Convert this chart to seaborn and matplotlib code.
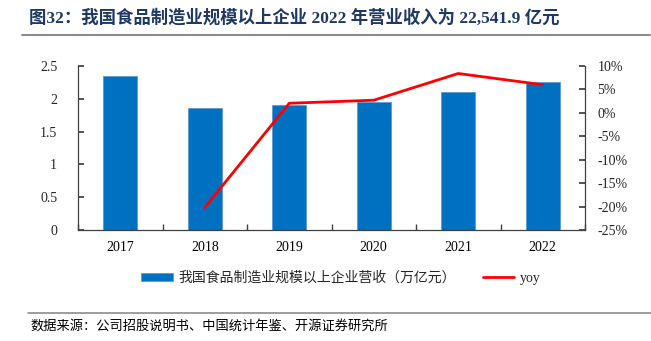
import numpy as np
import pandas as pd
import matplotlib
matplotlib.use("Agg")
import matplotlib.pyplot as plt
import seaborn as sns
from matplotlib.ticker import FuncFormatter

years = ["2017", "2018", "2019", "2020", "2021", "2022"]
revenue = [2.34, 1.86, 1.90, 1.95, 2.11, 2.25]
yoy_years = ["2018", "2019", "2020", "2021", "2022"]
yoy = [-20.2, 2.05, 2.7, 8.4, 6.0]

title = "图32：我国食品制造业规模以上企业 2022 年营业收入为 22,541.9 亿元"
bar_label = "我国食品制造业规模以上企业营收（万亿元）"
line_label = "yoy"
source = "数据来源：公司招股说明书、中国统计年鉴、开源证券研究所"

sns.set_theme(style="white")
plt.rcParams["font.family"] = ["Liberation Serif", "Noto Sans CJK SC", "DejaVu Sans"]

W, H = 651, 341
fig = plt.figure(figsize=(W / 100, H / 100), dpi=100)
ax = fig.add_axes([78 / W, 1 - 230 / H, (585 - 78) / W, (230 - 66) / H])

df = pd.DataFrame({"year": years, "rev": revenue})
sns.barplot(data=df, x="year", y="rev", ax=ax, color="#0070C0", width=0.4,
            saturation=1, label=bar_label, edgecolor="#5B9BD5", linewidth=0.6)
ax.set_xlim(-0.5, len(years) - 0.5)
ax.set_ylim(0, 2.5)
ax.set_yticks([0, 0.5, 1, 1.5, 2, 2.5])
ax.set_yticklabels(["0", "0.5", "1", "1.5", "2", "2.5"])
ax.set_xlabel("")
ax.set_ylabel("")

ax2 = ax.twinx()
pos = [years.index(y) for y in yoy_years]
sns.lineplot(x=pos, y=yoy, ax=ax2, color="#FF0000", linewidth=2.0, label=line_label)
ax2.set_ylim(-25, 10)
ax2.set_yticks(np.arange(-25, 11, 5))
ax2.yaxis.set_major_formatter(FuncFormatter(lambda v, p: f"{v:.0f}%"))
ax2.set_ylabel("")
if ax2.get_legend():
    ax2.get_legend().remove()
if ax.get_legend():
    ax.get_legend().remove()

spine_c = "#404040"
for a in (ax, ax2):
    a.spines["top"].set_visible(False)
    for s in ("left", "right", "bottom"):
        a.spines[s].set_color(spine_c)
        a.spines[s].set_linewidth(0.9)
ax.spines["right"].set_visible(False)
ax2.spines["left"].set_visible(False)
ax2.spines["bottom"].set_visible(False)

ax.set_xticks(np.arange(len(years)))
ax.set_xticklabels(years)
ax.tick_params(axis="x", length=0, labelsize=10, pad=8, colors="black")
ax.set_xticks(np.arange(-0.5, len(years), 1), minor=True)
ax.tick_params(axis="x", which="minor", direction="in", length=4, color=spine_c, bottom=True)
ax.tick_params(axis="y", direction="in", length=4, left=True, color=spine_c, labelsize=10, pad=15)
ax2.tick_params(axis="y", direction="in", length=4, right=True, color=spine_c, labelsize=10, pad=9)

handles = [ax.containers[0].patches[0], ax2.lines[0]]
fig.legend(handles, [bar_label, line_label], loc="center",
           bbox_to_anchor=(341 / W, 1 - 278 / H), ncol=2, frameon=False,
           fontsize=10, handlelength=2.3, handleheight=0.5, columnspacing=1.9,
           handletextpad=0.4)

fig.text(29 / W, 1 - 18 / H, title, fontsize=12.5, fontweight="bold",
         color="#1F3864", va="center", ha="left")
fig.add_artist(plt.Line2D([22 / W, 650 / W], [1 - 35 / H, 1 - 35 / H],
                          color="#8C8C8C", linewidth=1.5, transform=fig.transFigure))
fig.add_artist(plt.Line2D([28 / W, 1.0], [1 - 313 / H, 1 - 313 / H],
                          color="#8C8C8C", linewidth=1.2, transform=fig.transFigure))
fig.text(30 / W, 1 - 326 / H, source, fontsize=9.5, color="black",
         va="center", ha="left", family=["Noto Sans CJK SC", "DejaVu Sans"])

fig.savefig("out.png", dpi=100)
